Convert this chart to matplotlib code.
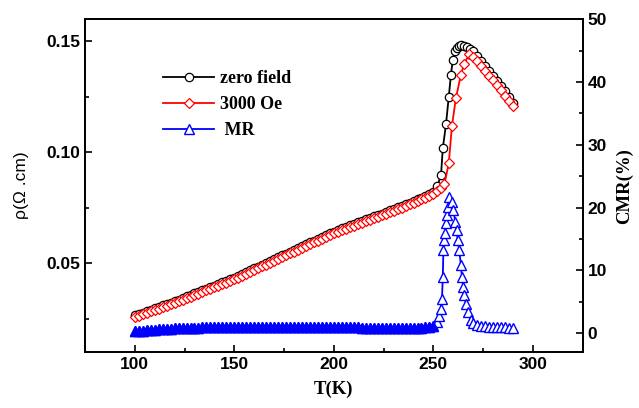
import matplotlib
matplotlib.use("Agg")
import matplotlib.pyplot as plt
from matplotlib.ticker import MultipleLocator

# ---------------- data ----------------
T_low = [100, 102, 104, 106, 108, 110, 112, 114, 116, 118, 120, 122, 124, 126, 128,
         130, 132, 134, 136, 138, 140, 142, 144, 146, 148, 150, 152, 154, 156, 158,
         160, 162, 164, 166, 168, 170, 172, 174, 176, 178, 180, 182, 184, 186, 188,
         190, 192, 194, 196, 198, 200, 202, 204, 206, 208, 210, 212, 214, 216, 218,
         220, 222, 224, 226, 228, 230, 232, 234, 236, 238, 240, 242, 244, 246, 248, 250]

rho_H_low = [0.0258, 0.0264, 0.0270, 0.0277, 0.0283, 0.0289, 0.0296, 0.0302, 0.0309, 0.0315,
             0.0322, 0.0329, 0.0336, 0.0343, 0.0350, 0.0357, 0.0364, 0.0371, 0.0378, 0.0385,
             0.0392, 0.0399, 0.0406, 0.0413, 0.0420, 0.0428, 0.0436, 0.0444, 0.0452, 0.0461,
             0.0469, 0.0477, 0.0486, 0.0494, 0.0502, 0.0511, 0.0519, 0.0528, 0.0536, 0.0545,
             0.0553, 0.0561, 0.0570, 0.0578, 0.0586, 0.0594, 0.0602, 0.0610, 0.0618, 0.0627,
             0.0635, 0.0642, 0.0649, 0.0656, 0.0663, 0.0670, 0.0677, 0.0683, 0.0690, 0.0697,
             0.0703, 0.0710, 0.0716, 0.0723, 0.0730, 0.0737, 0.0744, 0.0751, 0.0758, 0.0766,
             0.0773, 0.0781, 0.0788, 0.0796, 0.0804, 0.0814]

rho_0_low = [0.0266, 0.0272, 0.0278, 0.0285, 0.0291, 0.0297, 0.0304, 0.0310, 0.0317, 0.0323,
             0.0330, 0.0337, 0.0344, 0.0351, 0.0358, 0.0365, 0.0372, 0.0379, 0.0386, 0.0393,
             0.0400, 0.0407, 0.0414, 0.0421, 0.0428, 0.0436, 0.0444, 0.0452, 0.0460, 0.0469,
             0.0477, 0.0485, 0.0494, 0.0502, 0.0510, 0.0519, 0.0527, 0.0536, 0.0544, 0.0553,
             0.0561, 0.0569, 0.0578, 0.0586, 0.0594, 0.0602, 0.0610, 0.0618, 0.0626, 0.0635,
             0.0643, 0.0650, 0.0657, 0.0664, 0.0671, 0.0678, 0.0685, 0.0691, 0.0698, 0.0705,
             0.0711, 0.0718, 0.0724, 0.0731, 0.0738, 0.0745, 0.0752, 0.0759, 0.0766, 0.0774,
             0.0781, 0.0789, 0.0796, 0.0804, 0.0812, 0.0822]

mr_low = [0.30, 0.36, 0.42, 0.47, 0.52, 0.57, 0.61, 0.65, 0.69, 0.73, 0.76, 0.79, 0.82, 0.85,
          0.87, 0.89, 0.91, 0.93, 0.95, 0.96, 0.97, 0.98, 0.99, 1.00, 1.01, 1.02, 1.02, 1.03,
          1.03, 1.03, 1.03, 1.03, 1.02, 1.02, 1.01, 1.01, 1.00, 1.00, 0.99, 0.99, 0.98, 0.98,
          0.97, 0.97, 0.96, 0.96, 0.95, 0.95, 0.95, 0.94, 0.94, 0.93, 0.93, 0.93, 0.92, 0.92,
          0.92, 0.91, 0.91, 0.91, 0.90, 0.90, 0.90, 0.90, 0.89, 0.89, 0.89, 0.89, 0.89, 0.89,
          0.90, 0.90, 0.91, 0.93, 0.98, 1.10]

# zero field, transition + paramagnetic region
T_0_high = [252, 253.8, 254.7, 256.3, 257.7, 258.8, 259.7, 260.7, 261.7, 262.7, 264, 265.3,
            266.7, 268.2, 270, 272, 274, 276, 278, 280, 282, 284, 286, 288, 290]
rho_0_high = [0.0850, 0.0896, 0.1018, 0.1126, 0.1250, 0.1350, 0.1415, 0.1455, 0.1472, 0.1480,
              0.1482, 0.1480, 0.1474, 0.1466, 0.1455, 0.1434, 0.1412, 0.1390, 0.1368, 0.1346,
              0.1323, 0.1299, 0.1275, 0.1250, 0.1224]

# 3000 Oe, transition + paramagnetic region
T_H_high = [252, 254, 255.5, 257.7, 259.3, 261.3, 263.8, 265.5, 268, 270, 272, 274, 276, 278,
            280, 282, 284, 286, 288, 290]
rho_H_high = [0.0826, 0.0840, 0.0856, 0.0950, 0.1120, 0.1245, 0.1350, 0.1400, 0.1442, 0.1428,
              0.1410, 0.1389, 0.1368, 0.1346, 0.1324, 0.1302, 0.1279, 0.1256, 0.1232, 0.1208]

# MR (%), transition + paramagnetic region
T_mr_high = [252, 253, 253.8, 254.3, 254.7, 255, 255.5, 256, 256.3, 256.7, 257.2, 258, 259.3,
             260, 261, 261.7, 262.2, 263, 263.8, 264.3, 265, 265.5, 266.3, 267.2, 268.8, 270,
             272, 274, 276, 278, 280, 282, 284, 286, 288, 290]
mr_high = [1.8, 2.8, 3.9, 5.5, 9.0, 13.2, 14.8, 15.9, 17.5, 18.8, 20.1, 21.7, 20.9, 19.6, 17.7,
           16.4, 14.8, 13.2, 10.8, 9.0, 7.4, 6.1, 4.7, 3.4, 2.1, 1.6, 1.3, 1.2, 1.1, 1.05, 1.0,
           1.0, 0.95, 0.95, 0.9, 0.9]

T_zero = T_low + T_0_high
rho_zero = rho_0_low + rho_0_high
T_field = T_low + T_H_high
rho_field = rho_H_low + rho_H_high
T_mr = T_low + T_mr_high
mr = mr_low + mr_high

labels = ["zero field", "3000 Oe", " MR"]

# ---------------- plot ----------------
fig = plt.figure(figsize=(6.39, 4.08), dpi=100)
ax = fig.add_axes([0.133, 0.137, 0.779, 0.816])
ax2 = ax.twinx()

l1, = ax.plot(T_zero, rho_zero, color="black", lw=1.3, marker="o", ms=6.0,
              mfc="white", mec="black", mew=0.9, label=labels[0])
l2, = ax.plot(T_field, rho_field, color="red", lw=1.3, marker="D", ms=5.6,
              mfc="white", mec="red", mew=0.9, label=labels[1])
l3, = ax2.plot(T_mr, mr, color="blue", lw=1.3, marker="^", ms=7.0,
               mfc="white", mec="blue", mew=1.0, label=labels[2])
# the densely measured low-T MR points merge into a solid band in the original
ax2.plot(T_low, mr_low, ls="none", marker="^", ms=7.5, mfc="blue", mec="blue", mew=1.0)

ax.set_xlim(75, 325)
ax.set_ylim(0.01, 0.16)
ax2.set_ylim(-3, 50)

ax.xaxis.set_major_locator(MultipleLocator(50))
ax.xaxis.set_minor_locator(MultipleLocator(25))
ax.yaxis.set_major_locator(MultipleLocator(0.05))
ax.yaxis.set_minor_locator(MultipleLocator(0.025))
ax2.yaxis.set_major_locator(MultipleLocator(10))
ax2.yaxis.set_minor_locator(MultipleLocator(5))
ax.yaxis.set_major_formatter(plt.FuncFormatter(lambda v, p: f"{v:.2f}"))

for a in (ax, ax2):
    a.tick_params(which="both", direction="in", width=1.2)
    a.tick_params(which="major", length=5)
    a.tick_params(which="minor", length=3)
    for lab in a.get_xticklabels() + a.get_yticklabels():
        lab.set_fontfamily("Liberation Sans")
        lab.set_fontweight("bold")
        lab.set_fontsize(12.5)
    for s in a.spines.values():
        s.set_linewidth(1.3)
ax.tick_params(axis="y", right=False)
ax.tick_params(axis="x", top=False)

ax.set_xlabel("T(K)", fontfamily="Liberation Serif", fontweight="bold", fontsize=13.5, labelpad=6)
ax.set_ylabel("ρ(Ω .cm)", fontfamily="Liberation Sans", fontsize=12.5, labelpad=12)
ax2.set_ylabel("CMR(%)", fontfamily="Liberation Serif", fontweight="bold", fontsize=13.5, labelpad=6)

leg = ax.legend(handles=[l1, l2, l3], loc="upper left", bbox_to_anchor=(0.125, 0.895),
                frameon=False, handlelength=2.8, handletextpad=0.35, labelspacing=0.5,
                prop=dict(family="Liberation Serif", weight="bold", size=13))

fig.savefig("out.png", dpi=100)
